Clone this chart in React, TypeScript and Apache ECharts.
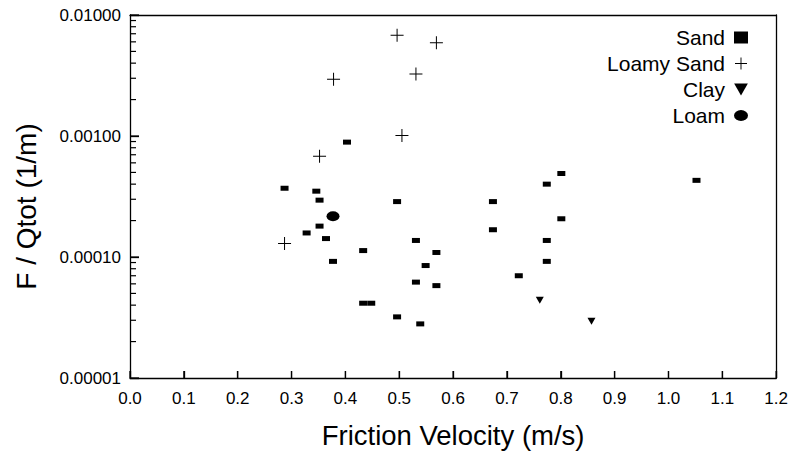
import React, { useEffect, useRef } from "react";
import * as echarts from "echarts";

// Friction velocity (m/s) and F/Qtot (1/m) per soil texture
const sandVelocity = [0.287, 0.346, 0.352, 0.352, 0.328, 0.364, 0.433, 0.377, 0.403, 0.496, 0.531, 0.569, 0.549, 0.531, 0.569, 0.433, 0.448, 0.496, 0.539, 0.801, 0.774, 1.052, 0.674, 0.801, 0.674, 0.774, 0.774, 0.722];
const sandRatio = [3.7e-4, 3.5e-4, 2.95e-4, 1.8e-4, 1.58e-4, 1.42e-4, 1.13e-4, 9.2e-5, 8.9e-4, 2.87e-4, 1.37e-4, 1.09e-4, 8.5e-5, 6.2e-5, 5.8e-5, 4.15e-5, 4.15e-5, 3.2e-5, 2.8e-5, 4.9e-4, 4.0e-4, 4.3e-4, 2.87e-4, 2.07e-4, 1.68e-4, 1.37e-4, 9.2e-5, 7.0e-5];

const loamySandVelocity = [0.496, 0.569, 0.378, 0.531, 0.505, 0.352, 0.287];
const loamySandRatio = [6.8e-3, 5.9e-3, 2.95e-3, 3.25e-3, 1.01e-3, 6.8e-4, 1.29e-4];

const clayVelocity = [0.761, 0.857];
const clayRatio = [4.4e-5, 2.95e-5];

const loamVelocity = [0.377];
const loamRatio = [2.17e-4];

const seriesNames = ["Sand", "Loamy Sand", "Clay", "Loam"];
const xTickValues = [0, 0.1, 0.2, 0.3, 0.4, 0.5, 0.6, 0.7, 0.8, 0.9, 1.0, 1.1, 1.2];
const majorTicks = [1e-5, 1e-4, 1e-3, 1e-2];
const minorMultipliers = [2, 3, 4, 5, 6, 7, 8, 9];

const zip = (xs: number[], ys: number[]) => xs.map((x, i) => [x, ys[i]]);

const FONT = "'Liberation Sans', Arial, sans-serif";

const crossPath = "path://M0,6h13v1h-13z M6,0h1v13h-1z";
const trianglePath = "path://M0,0h8l-4,7z";
const ellipsePath = "path://M0,5A6.5,5 0 1,0 13,5A6.5,5 0 1,0 0,5z";

const LINE = { color: "#000", width: 1.3 };
const TICK = { color: "#000", width: 1.3 };

export default function App() {
  const ref = useRef<HTMLDivElement>(null);
  useEffect(() => {
    document.body.style.margin = "0";
    if (!ref.current) return;
    const chart = echarts.init(ref.current, null, { renderer: "svg" });
    const minorValues: number[] = [];
    majorTicks.slice(0, 3).forEach((m) => minorMultipliers.forEach((k) => minorValues.push(m * k)));

    const frameAxis = {
      axisLine: { show: true, onZero: false, lineStyle: LINE },
      axisTick: { show: false },
      axisLabel: { show: false },
      splitLine: { show: false },
    };

    chart.setOption({
      animation: false,
      grid: { left: 130, right: 13, top: 15, bottom: 74 },
      legend: {
        orient: "vertical",
        right: 38,
        top: 22,
        align: "right",
        itemWidth: 14,
        itemHeight: 12,
        itemGap: 5,
        textStyle: { fontFamily: FONT, fontSize: 21, color: "#000", lineHeight: 20, padding: [0, 4, 0, 0] },
        data: seriesNames,
      },
      xAxis: [
        {
          type: "value",
          min: 0,
          max: 1.2,
          interval: 0.1,
          position: "bottom",
          name: "Friction Velocity (m/s)",
          nameLocation: "middle",
          nameGap: 57,
          nameMoveOverlap: false,
          nameTextStyle: { fontFamily: FONT, fontSize: 27.5, color: "#000", verticalAlign: "middle" },
          axisLine: { show: true, onZero: false, lineStyle: LINE },
          axisTick: { show: true, inside: true, length: 7, lineStyle: TICK },
          axisLabel: {
            show: true,
            margin: 12,
            fontFamily: FONT,
            fontSize: 17,
            color: "#000",
            formatter: (v: number) => v.toFixed(1),
          },
          splitLine: { show: false },
        },
        { type: "value", min: 0, max: 1.2, position: "top", ...frameAxis },
      ],
      yAxis: [
        {
          type: "log",
          logBase: 10,
          min: 1e-5,
          max: 1e-2,
          position: "left",
          name: "F / Qtot (1/m)",
          nameLocation: "middle",
          nameGap: 90,
          nameMoveOverlap: false,
          nameTextStyle: { fontFamily: FONT, fontSize: 28, color: "#000", padding: [0, 20, 0, 0] },
          axisLine: { show: true, onZero: false, lineStyle: LINE },
          axisTick: { show: true, inside: true, length: 9, lineStyle: TICK },
          axisLabel: {
            show: true,
            margin: 9,
            fontFamily: FONT,
            fontSize: 17,
            color: "#000",
            formatter: (v: number) => v.toFixed(5),
          },
          splitLine: { show: false },
        },
        { type: "log", logBase: 10, min: 1e-5, max: 1e-2, position: "right", ...frameAxis },
      ],
      series: [
        {
          name: "Sand",
          type: "scatter",
          symbol: "rect",
          symbolSize: [8, 5],
          itemStyle: { color: "#000", opacity: 1 },
          data: zip(sandVelocity, sandRatio),
        },
        {
          name: "Loamy Sand",
          type: "scatter",
          symbol: crossPath,
          symbolSize: [13, 13],
          itemStyle: { color: "#000", opacity: 1 },
          data: zip(loamySandVelocity, loamySandRatio),
        },
        {
          name: "Clay",
          type: "scatter",
          symbol: trianglePath,
          symbolSize: [8, 7],
          itemStyle: { color: "#000", opacity: 1 },
          data: zip(clayVelocity, clayRatio),
        },
        {
          name: "Loam",
          type: "scatter",
          symbol: ellipsePath,
          symbolSize: [13, 10],
          itemStyle: { color: "#000", opacity: 1 },
          data: zip(loamVelocity, loamRatio),
        },
        {
          type: "custom",
          silent: true,
          clip: false,
          z: 5,
          renderItem: (_p: any, api: any) => {
            const p = api.coord([api.value(0), 1e-5]);
            return { type: "rect", shape: { x: p[0] - 0.6, y: p[1] - 7, width: 1.2, height: 7 }, style: { fill: "#000" } };
          },
          data: xTickValues.map((v) => [v, 1e-5]),
        },
        {
          type: "custom",
          silent: true,
          clip: false,
          z: 5,
          renderItem: (_p: any, api: any) => {
            const p = api.coord([0, api.value(1)]);
            const len = api.value(2);
            return { type: "rect", shape: { x: p[0], y: p[1] - 0.6, width: len, height: 1.2 }, style: { fill: "#000" } };
          },
          data: [
            ...majorTicks.map((v) => [0, v, 9]),
            ...minorValues.map((v) => [0, v, 6]),
          ],
        },
      ],
    });
    return () => chart.dispose();
  }, []);
  return <div ref={ref} style={{ width: 791, height: 454 }} />;
}
